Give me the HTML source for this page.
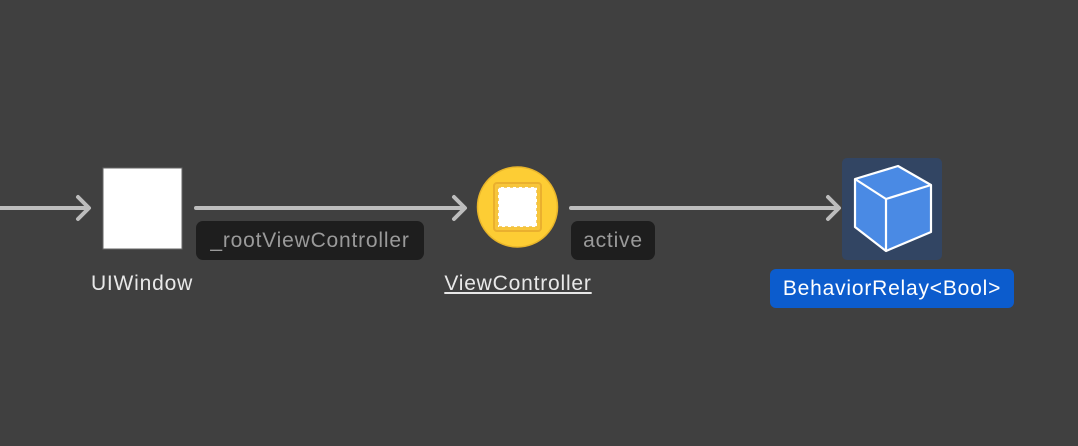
<!DOCTYPE html>
<html><head><style>
html,body{margin:0;padding:0;width:1078px;height:446px;background:#404040;overflow:hidden}
body{position:relative;font-family:"Liberation Sans",sans-serif}
.t{position:absolute;font-size:21px;letter-spacing:0.8px;white-space:nowrap;width:240px;text-align:center;line-height:24px}
.lab{position:absolute;background:#1e1e1e;border-radius:7px;color:#9a9a9a;font-size:21px;letter-spacing:0.8px;line-height:39px;text-align:center;white-space:nowrap}
</style></head><body>
<svg width="1078" height="446" style="position:absolute;left:0;top:0">
<g stroke="#bdbdbd" stroke-width="4" fill="none" stroke-linecap="round" stroke-linejoin="round">
<line x1="0" y1="208" x2="88" y2="208"/><polyline points="78,197 89,208 78,219"/>
<line x1="196" y1="208" x2="464" y2="208"/><polyline points="454,197 465,208 454,219"/>
<line x1="571" y1="208" x2="838" y2="208"/><polyline points="828,197 839,208 828,219"/>
</g>
<rect x="103" y="168" width="79" height="81" fill="#fff" stroke="#666" stroke-width="1"/>
<circle cx="517.5" cy="207" r="40" fill="#fdcd34" stroke="#e8b52a" stroke-width="1.5"/>
<rect x="494" y="183" width="47" height="48" rx="3" fill="#f8c63a" stroke="#eab02e" stroke-width="2"/>
<rect x="498" y="187" width="39" height="40" fill="#fff" stroke="#f0c040" stroke-width="1.5" stroke-dasharray="3 3"/>
<rect x="842" y="158" width="100" height="102" rx="5" fill="#324563"/>
<polygon points="855,179 898,166 931,185 931,232 886,251 855,227" fill="#4a8ae4" stroke="#fff" stroke-width="2.2" stroke-linejoin="round"/>
<polyline points="855,179 886,199 931,185" fill="none" stroke="#fff" stroke-width="2.2" stroke-linejoin="round"/>
<line x1="886" y1="199" x2="886" y2="251" stroke="#fff" stroke-width="2.2"/>
</svg>
<div class="lab" style="left:196px;top:221px;width:228px">_rootViewController</div>
<div class="lab" style="left:571px;top:221px;width:84px">active</div>
<div class="t" style="left:22px;top:272px;color:#e8e8e8">UIWindow</div>
<div class="t" style="left:398px;top:272px;color:#e8e8e8"><span style="text-decoration:underline">ViewController</span></div>
<div style="position:absolute;left:770px;top:269px;width:244px;height:39px;background:#0c5ccd;border-radius:6px;color:#fff;font-size:21px;letter-spacing:0.8px;line-height:39px;text-align:center;white-space:nowrap">BehaviorRelay&lt;Bool&gt;</div>
</body></html>
